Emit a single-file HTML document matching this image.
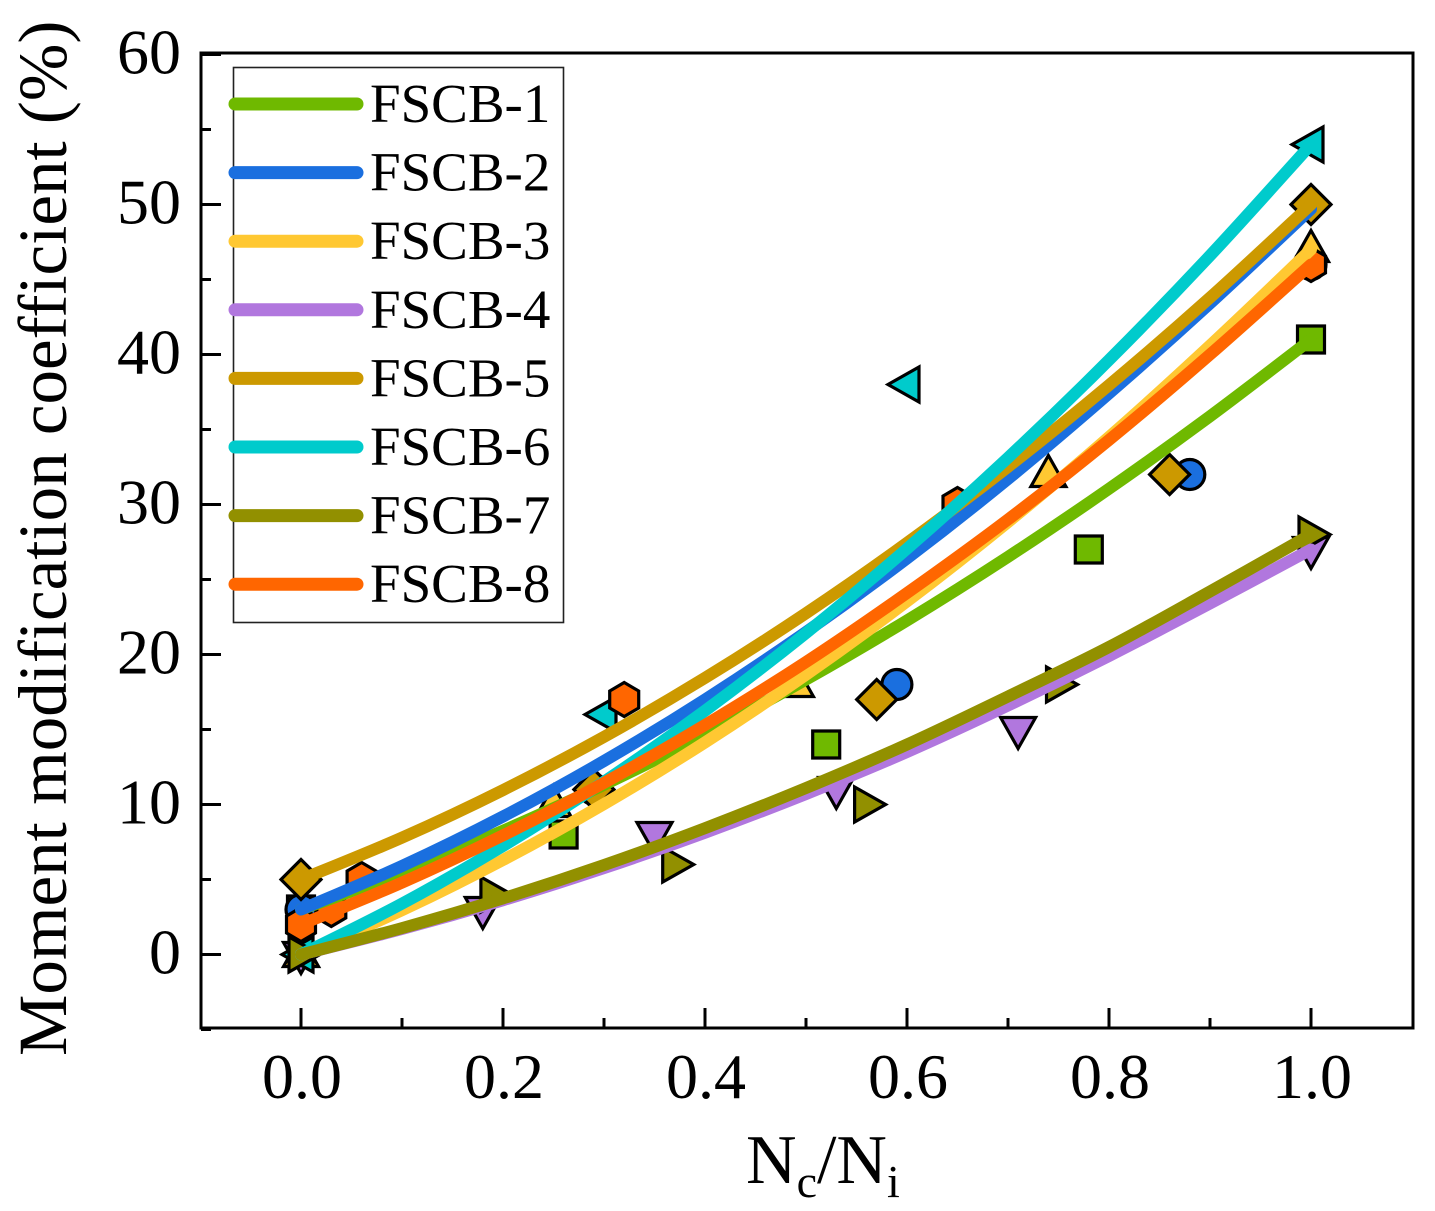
<!DOCTYPE html>
<html lang="en">
<head>
<meta charset="utf-8">
<title>Moment modification coefficient chart</title>
<style>
html,body{margin:0;padding:0;background:#fff;width:1435px;height:1211px;overflow:hidden}
svg{display:block;font-family:"Liberation Serif",serif}
</style>
</head>
<body>
<svg id="chart" xmlns="http://www.w3.org/2000/svg" width="1435" height="1211" viewBox="0 0 1435 1211">
  <rect x="0" y="0" width="1435" height="1211" fill="#ffffff"/>
  <g id="ticks"></g>
  <g id="markers"></g>
  <g id="curves"></g>
  <rect x="201" y="53" width="1212" height="975" fill="none" stroke="#000" stroke-width="3"/>
  <g id="tick-labels"></g>
  <text x="746" y="1183" font-size="70" fill="#000">N<tspan font-size="46" dy="14">c</tspan><tspan dy="-14">/N</tspan><tspan font-size="46" dy="14">i</tspan></text>
  <text transform="translate(66,1056) rotate(-90)" font-size="69" fill="#000">Moment modification coefficient (%)</text>
  <g id="legend">
    <rect x="233.5" y="67.5" width="330" height="555" fill="#fff" stroke="#222" stroke-width="1.6"/>
  </g>
</svg>
<script>
// Axis tick labels
const xTickValues = [0, 0.2, 0.4, 0.6, 0.8, 1.0];
const xMinorValues = [0.1, 0.3, 0.5, 0.7, 0.9];
const yTickValues = [0, 10, 20, 30, 40, 50, 60];
const yMinorValues = [-5, 5, 15, 25, 35, 45, 55];

// Sample abscissae of the fitted curves
const curveX = [0, 0.1, 0.2, 0.3, 0.4, 0.5, 0.6, 0.7, 0.8, 0.9, 1.0];

// Fitted curve values
const fscb1Curve = [3, 5.48, 8.25, 11.31, 14.67, 18.33, 22.27, 26.51, 31.05, 35.88, 41];
const fscb2Curve = [3, 5.9, 9.2, 12.9, 17.0, 21.5, 26.4, 31.7, 37.4, 43.4, 49.7];
const fscb3Curve = [0, 2.95, 6.3, 10.03, 14.14, 18.65, 23.54, 28.83, 34.5, 40.6, 47];
const fscb4Curve = [0, 1.7, 3.62, 5.76, 8.12, 10.7, 13.5, 16.6, 19.9, 23.4, 27];
const fscb5Curve = [5, 7.79, 10.96, 14.51, 18.44, 22.75, 27.44, 32.51, 37.96, 43.79, 50];
const fscb6Curve = [0, 3.39, 7.23, 11.52, 16.25, 21.43, 27.05, 33.12, 39.63, 46.59, 54];
const fscb7Curve = [0, 1.76, 3.74, 5.96, 8.42, 11.1, 14.0, 17.2, 20.5, 24.2, 28];
const fscb8Curve = [2, 4.79, 7.94, 11.44, 15.3, 19.5, 24.1, 29.0, 34.3, 40.0, 46];

// Measured data points
const fscb1X = [0, 0.26, 0.52, 0.78, 1.0];
const fscb1Y = [3, 8, 14, 27, 41];
const fscb2X = [0, 0.29, 0.59, 0.88, 1.0];
const fscb2Y = [3, 11, 18, 32, 46];
const fscb3X = [0, 0.25, 0.49, 0.74, 1.0];
const fscb3Y = [0, 10, 18, 32, 47];
const fscb4X = [0, 0.18, 0.35, 0.53, 0.71, 1.0];
const fscb4Y = [0, 3, 8, 11, 15, 27];
const fscb5X = [0, 0.29, 0.57, 0.86, 1.0];
const fscb5Y = [5, 11, 17, 32, 50];
const fscb6X = [0, 0.3, 0.6, 1.0];
const fscb6Y = [0, 16, 38, 54];
const fscb7X = [0, 0.19, 0.37, 0.56, 0.75, 1.0];
const fscb7Y = [0, 4, 6, 10, 18, 28];
const fscb8X = [0, 0.03, 0.06, 0.32, 0.65, 1.0];
const fscb8Y = [2, 3, 5, 17, 30, 46];

const seriesNames = ['FSCB-1', 'FSCB-2', 'FSCB-3', 'FSCB-4', 'FSCB-5', 'FSCB-6', 'FSCB-7', 'FSCB-8'];
const seriesColors = ['#6fb900', '#1a6fdf', '#ffc832', '#b177de', '#cc9900', '#00cbcc', '#929000', '#ff6600'];
const seriesShapes = ['square', 'circle', 'up', 'down', 'diamond', 'left', 'right', 'hexagon'];
const seriesCurves = [fscb1Curve, fscb2Curve, fscb3Curve, fscb4Curve, fscb5Curve, fscb6Curve, fscb7Curve, fscb8Curve];
const seriesPointX = [fscb1X, fscb2X, fscb3X, fscb4X, fscb5X, fscb6X, fscb7X, fscb8X];
const seriesPointY = [fscb1Y, fscb2Y, fscb3Y, fscb4Y, fscb5Y, fscb6Y, fscb7Y, fscb8Y];

const NS = 'http://www.w3.org/2000/svg';
function xScale(v) { return 301 + v * 1010; }
function yScale(v) { return 954.5 - v * 15.0; }
function make(tag, parent) {
  const el = document.createElementNS(NS, tag);
  parent.appendChild(el);
  return el;
}

const tickGroup = document.getElementById('ticks');
const labelGroup = document.getElementById('tick-labels');
function drawTick(x1, y1, x2, y2, width) {
  const t = make('line', tickGroup);
  
  
  t.setAttribute('x1', x1);
  t.setAttribute('y1', y1);
  t.setAttribute('x2', x2);
  t.setAttribute('y2', y2);
  t.setAttribute('stroke', '#000');
  t.setAttribute('stroke-width', width);
}
xTickValues.forEach(function (v) {
  drawTick(xScale(v), 1028, xScale(v), 1008, 3);
  const lab = make('text', labelGroup);
  
  
  lab.setAttribute('x', xScale(v) + 1);
  lab.setAttribute('y', 1098);
  lab.setAttribute('text-anchor', 'middle');
  lab.setAttribute('font-size', '64');
  lab.textContent = v.toFixed(1);
});
xMinorValues.forEach(function (v) {
  drawTick(xScale(v), 1028, xScale(v), 1018, 3);
});
yTickValues.forEach(function (v) {
  drawTick(201, yScale(v), 221, yScale(v), 3);
  const lab = make('text', labelGroup);
  
  
  lab.setAttribute('x', 181);
  lab.setAttribute('y', yScale(v) + 19);
  lab.setAttribute('text-anchor', 'end');
  lab.setAttribute('font-size', '64');
  lab.textContent = String(v);
});
yMinorValues.forEach(function (v) {
  drawTick(201, yScale(v), 211, yScale(v), 3);
});

function markerPoints(shape, cx, cy) {
  let pts = [];
  if (shape === 'square') pts = [[-13.5, -13.5], [13.5, -13.5], [13.5, 13.5], [-13.5, 13.5]];
  if (shape === 'diamond') pts = [[0, -20], [20, 0], [0, 20], [-20, 0]];
  if (shape === 'up') pts = [[0, -19], [17.5, 12], [-17.5, 12]];
  if (shape === 'down') pts = [[0, 19], [17.5, -12], [-17.5, -12]];
  if (shape === 'left') pts = [[-19, 0], [12, -17.5], [12, 17.5]];
  if (shape === 'right') pts = [[19, 0], [-12, -17.5], [-12, 17.5]];
  if (shape === 'hexagon') pts = [[0, -17], [14.5, -8.5], [14.5, 8.5], [0, 17], [-14.5, 8.5], [-14.5, -8.5]];
  return pts.map(function (p) { return (cx + p[0]) + ',' + (cy + p[1]); }).join(' ');
}

const markerGroup = document.getElementById('markers');
seriesNames.forEach(function (name, i) {
  seriesPointX[i].forEach(function (xv, j) {
    const cx = xScale(xv);
    const cy = yScale(seriesPointY[i][j]);
    const shape = seriesShapes[i];
    const m = make(shape === 'circle' ? 'circle' : 'polygon', markerGroup);
    
    
    if (shape === 'circle') {
      m.setAttribute('cx', cx);
      m.setAttribute('cy', cy);
      m.setAttribute('r', 15);
    } else {
      m.setAttribute('points', markerPoints(shape, cx, cy));
    }
    m.setAttribute('fill', seriesColors[i]);
    m.setAttribute('stroke', '#000');
    m.setAttribute('stroke-width', 3.2);
    m.setAttribute('stroke-linejoin', 'miter');
  });
});

function curvePath(values) {
  const p = curveX.map(function (x, i) { return [xScale(x), yScale(values[i])]; });
  let d = 'M' + p[0][0] + ' ' + p[0][1];
  for (let i = 0; i < p.length - 1; i++) {
    const a = p[Math.max(i - 1, 0)];
    const b = p[i];
    const c = p[i + 1];
    const e = p[Math.min(i + 2, p.length - 1)];
    d += ' C' + (b[0] + (c[0] - a[0]) / 6) + ' ' + (b[1] + (c[1] - a[1]) / 6) + ' ' +
      (c[0] - (e[0] - b[0]) / 6) + ' ' + (c[1] - (e[1] - b[1]) / 6) + ' ' + c[0] + ' ' + c[1];
  }
  return d;
}

const curveGroup = document.getElementById('curves');
seriesNames.forEach(function (name, i) {
  const c = make('path', curveGroup);
  
  
  c.setAttribute('d', curvePath(seriesCurves[i]));
  c.setAttribute('fill', 'none');
  c.setAttribute('stroke', seriesColors[i]);
  c.setAttribute('stroke-width', 12);
  c.setAttribute('stroke-linecap', 'round');
});

const legendGroup = document.getElementById('legend');
const legendRowStep = 68.6;
seriesNames.forEach(function (name, i) {
  const rowY = 104 + i * legendRowStep;
  const l = make('line', legendGroup);
  
  
  l.setAttribute('x1', 235);
  l.setAttribute('x2', 357);
  l.setAttribute('y1', rowY);
  l.setAttribute('y2', rowY);
  l.setAttribute('stroke', seriesColors[i]);
  l.setAttribute('stroke-width', 13);
  l.setAttribute('stroke-linecap', 'round');
  const t = make('text', legendGroup);
  
  
  t.setAttribute('x', 370);
  t.setAttribute('y', rowY + 18);
  t.setAttribute('font-size', '55');
  t.textContent = name;
});
</script>
</body>
</html>
